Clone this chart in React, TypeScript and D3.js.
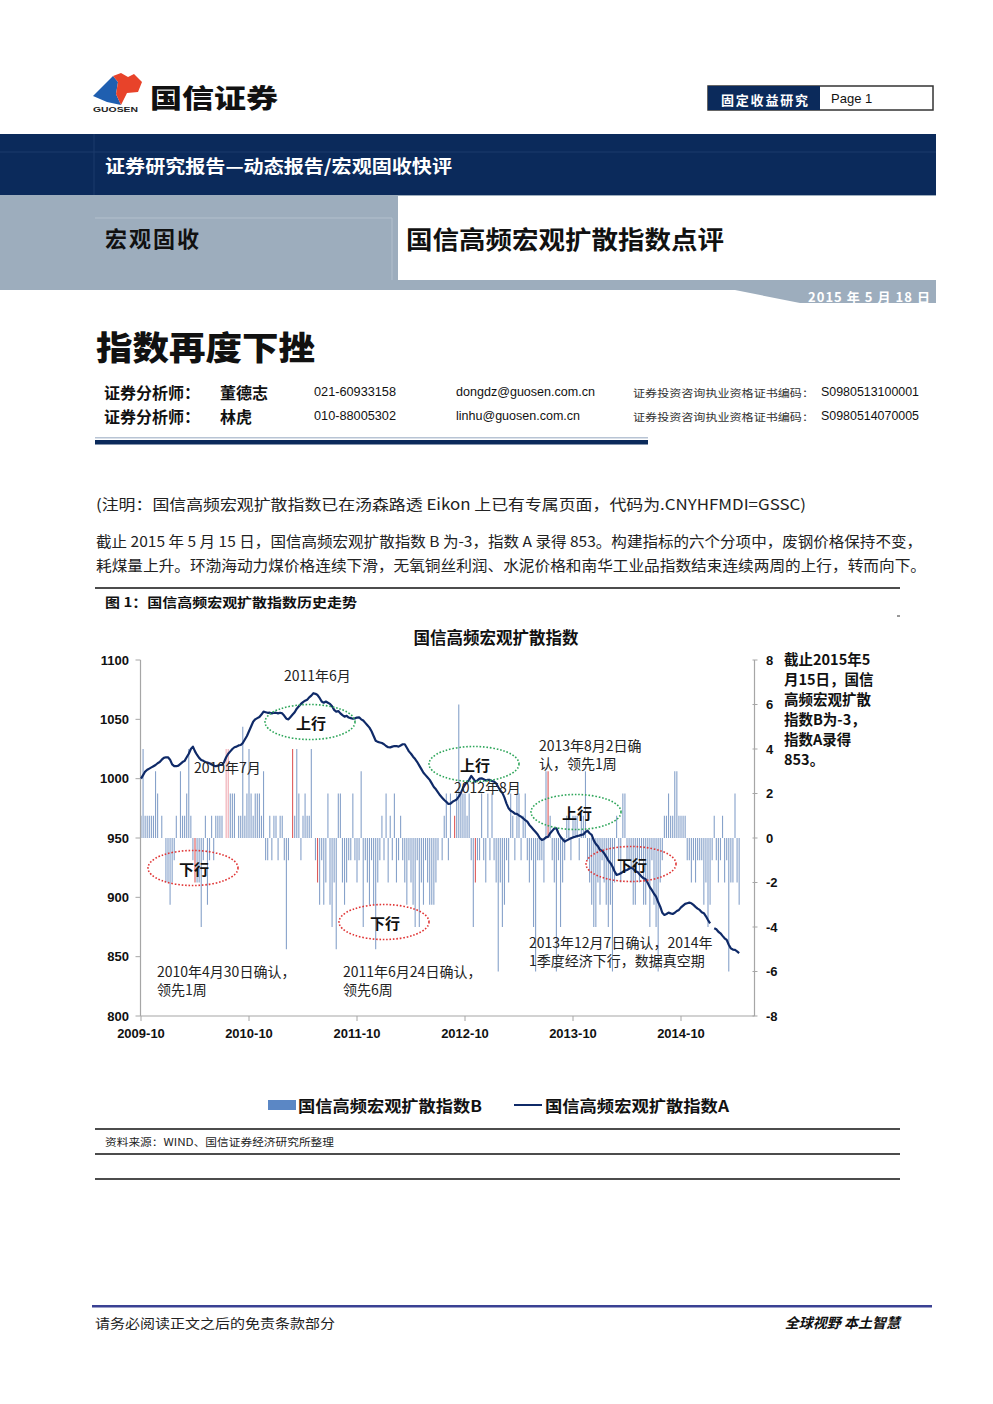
import React from 'react';
import * as d3 from 'd3';

// ---------- data ----------
const tickLabels = ['2009-10', '2010-10', '2011-10', '2012-10', '2013-10', '2014-10'];
const tickWeeks = [0, 52, 104, 156, 208, 260];
const leftTicks = [800, 850, 900, 950, 1000, 1050, 1100];
const rightTicks = [-8, -6, -4, -2, 0, 2, 4, 6, 8];

// 国信高频宏观扩散指数A (weekly)
const indexA: (number | null)[] = [
  1000, 1003, 1006, 1007.5, 1008.5, 1009.5, 1010.5, 1011.5, 1013, 1014,
  1016, 1017.5, 1018, 1018, 1016, 1012, 1010.5, 1010.5, 1011, 1012.5,
  1014, 1015, 1018, 1021, 1025, 1027, 1023, 1020, 1017.5, 1015.8,
  1015, 1014, 1013.5, 1013, 1012, 1011, 1010.5, 1011, 1011.5, 1011.5,
  1014, 1018, 1021, 1023, 1025, 1026.5, 1027, 1028, 1028.4, 1030,
  1033, 1036, 1040, 1044, 1048, 1050, 1051, 1052, 1054, 1056.5,
  1056, 1055.5, 1055.6, 1055, 1055.5, 1055.6, 1055, 1055.5, 1055, 1053,
  1050.5, 1050, 1052, 1054, 1056, 1059, 1061, 1063, 1064.5, 1065.7,
  1066.5, 1068.5, 1070, 1072, 1071.5, 1070.5, 1068, 1065, 1064, 1065,
  1064, 1063, 1061, 1058, 1056.4, 1057, 1055, 1053.5, 1052.2, 1053,
  1051.5, 1051, 1050.5, 1050.8, 1051.5, 1051.7, 1050, 1049, 1047, 1045,
  1043, 1040, 1036, 1032, 1031, 1030.5, 1030, 1029, 1027.5, 1026.5,
  1026.4, 1027, 1027.5, 1027.5, 1027, 1028, 1029, 1029, 1026, 1023,
  1021, 1018.5, 1016.5, 1014, 1011, 1008, 1005, 1003, 1001, 999,
  996, 993, 991, 988.5, 986, 984, 982, 980.5, 978.7, 979,
  980.5, 981.5, 982.5, 984.8, 988, 992, 995, 997, 999, 1002.3,
  1000, 997.5, 998.5, 1000, 1000.3, 999.5, 998.5, 999, 998.9, 998,
  997.5, 996, 993, 990, 988, 984, 979, 975, 973, 972,
  970.5, 970.3, 969, 968, 966.6, 965, 963.8, 961, 959, 957,
  955, 953, 950, 948.4, 949, 950.5, 951.1, 954, 956, 958,
  958.2, 954, 951, 949, 947, 948, 949, 949.8, 950.5, 951,
  951.7, 952, 952.6, 953, 955, 956.2, 954, 952.6, 948, 945,
  943, 940, 939.3, 937, 934.3, 931, 929, 926, 922, 918.9,
  919.5, 920.3, 921.5, 922.5, 923.1, 924, 925, 924, 922, 921.5,
  919.5, 917.5, 916, 915.2, 912, 908.5, 906, 903, 900.6, 896,
  892.2, 887, 885.2, 886, 887.1, 886.5, 886, 887, 888.5, 889.4,
  891.5, 893, 894.5, 895, 895.5, 895, 893.6, 892, 890.5, 889.4,
  887.5, 886.6, 884, 880.9, 878, null, 874, 873.1, 871, 869.7,
  867.5, 865.5, 864.1, 860, 857, 856, 855.7, 854.5, 853,
];

// 国信高频宏观扩散指数B (weekly)
const indexB: number[] = [
  1, 4, 1, 1, 1, 1, 1, 3, 2, 0,
  1, 0, -2, -2, -3, -2, -1, 1, 0, 3,
  1, 1, 2, 4, 1, -1, -2, -2, -2, -4,
  -1, 1, -3, -1, 1, -1, 1, 1, 1, 1,
  0, 4, 4, 2, 2, 2, 0, 1, 1, 5,
  1, 2, 4, 2, 1, 2, 2, 2, 1, 3,
  -1, -1, 1, -1, 1, 1, -1, 1, 1, -1,
  -5, -1, 0, 4, 1, 4, 2, -1, 1, 2,
  1, 1, 4, 0, -1, -2, -3, -1, -3, -2,
  2, -3, -4, -2, -5, 2, 2, -2, -3, -2,
  -1, -1, 2, -1, -2, -1, 3, -4, -1, -2,
  -3, -1, -3, -5, -2, -1, 1, -1, 2, -2,
  1, -1, 2, -2, -1, 1, -1, -2, -3, -1,
  -2, -3, -4, -1, -4, -2, -3, -1, -2, -3,
  -3, -3, -2, -1, 0, -1, 1, 2, -1, 2,
  0, 1, 2, 6, 2, 2, 2, 1, 2, -1,
  -4, -2, -1, -1, 2, -1, -2, 2, -1, 2,
  -1, -2, -6, -2, -4, -3, -1, -2, 2, 1,
  -1, 2, 2, -1, 1, 2, -1, -2, -1, -4,
  -6, -1, -1, -1, -2, 3, 3, 1, -1, -2,
  -6, -1, -4, -2, -1, 1, 1, -1, 1, 1,
  1, -1, 1, 1, 3, -1, -2, -3, -4, -4,
  -2, -3, -1, -2, -3, -4, -3, -6, -2, 1,
  -1, -2, 2, 2, -1, -1, -2, -3, -3, -1,
  -2, -1, -3, -3, -2, -4, -1, -3, -4, -6,
  -2, -1, 1, 1, 2, 1, 1, 3, 3, 1,
  1, 1, 1, -1, -1, -2, -1, -2, -1, -1,
  -1, -3, -2, -4, -3, -1, 1, -1, -2, -1,
  1, -2, -1, -6, -2, -2, 2, -2, -3,
];

const redWeeks = [26, 73, 85, 151, 161, 196];
const pinkWeeks = [41, 42];

const seriesNames = ['国信高频宏观扩散指数B', '国信高频宏观扩散指数A'];

// ---------- styles ----------
const NAVY = '#0b2a5b';
const GRAY = '#9dadbd';
const SANS = "'Liberation Sans','Noto Sans CJK SC',sans-serif";
const CJK = "'Noto Sans CJK SC','Liberation Sans',sans-serif";

export default function App() {
  const x = d3.scaleLinear().domain([0, 52]).range([141, 249]);
  const yL = d3.scaleLinear().domain([800, 1100]).range([1016, 660]);
  const yR = d3.scaleLinear().domain([-8, 8]).range([1016, 660]);

  const lineGen = d3
    .line<number | null>()
    .defined((d) => d != null)
    .x((_, i) => x(i))
    .y((d) => yL(d as number));

  const axisColor = '#a6a6a6';
  const plotL = 140.5;
  const plotR = 754.5;

  const barColor = (i: number) =>
    redWeeks.includes(i) ? '#de5a5a' : pinkWeeks.includes(i) ? '#efa9b1' : '#87a2ca';

  const ellipses = [
    { cx: 310, cy: 722, color: '#2ea65a', label: '上行' },
    { cx: 474, cy: 764, color: '#2ea65a', label: '上行' },
    { cx: 576, cy: 812, color: '#2ea65a', label: '上行' },
    { cx: 193, cy: 868, color: '#e03535', label: '下行' },
    { cx: 384, cy: 922, color: '#e03535', label: '下行' },
    { cx: 631, cy: 864, color: '#e03535', label: '下行' },
  ];

  const notes = [
    { x: 284, y: 675, t: '2011年6月' },
    { x: 194, y: 767, t: '2010年7月' },
    { x: 539, y: 745, t: '2013年8月2日确' },
    { x: 539, y: 763, t: '认，领先1周' },
    { x: 454, y: 787, t: '2012年8月' },
    { x: 529, y: 942, t: '2013年12月7日确认，2014年' },
    { x: 529, y: 960, t: '1季度经济下行，数据真空期' },
    { x: 157, y: 971, t: '2010年4月30日确认，' },
    { x: 157, y: 989, t: '领先1周' },
    { x: 343, y: 971, t: '2011年6月24日确认，' },
    { x: 343, y: 989, t: '领先6周' },
  ];

  const sideNote = ['截止2015年5', '月15日，国信', '高频宏观扩散', '指数B为-3，', '指数A录得', '853。'];

  return (
    <svg
      width={993}
      height={1404}
      viewBox="0 0 993 1404"
      style={{ position: 'absolute', left: 0, top: 0, background: '#fff' }}
    >
      <rect x={0} y={0} width={993} height={1404} fill="#fff" />

      {/* ---------- logo ---------- */}
      <path d="M93,96 L113,76 L118,82 L116,94 L121,105 L107,102 Z" fill="#1f5fb0" />
      <path d="M113,76 L121,73 L128,77 L134,74 L142,82 L138,92 L127,93 L121,105 L116,94 L118,82 Z" fill="#e8432a" />
      <text x={93} y={112} fontFamily={SANS} fontWeight="bold" fontSize={7} textLength={45} lengthAdjust="spacingAndGlyphs" fill="#222">
        GUOSEN
      </text>
      <text x={150} y={96} dominantBaseline="central" fontFamily={CJK} fontWeight={900} fontSize={26} textLength={128} lengthAdjust="spacingAndGlyphs" fill="#111">
        国信证券
      </text>

      {/* top-right box */}
      <rect x={708} y={86} width={225} height={24} fill="#fff" stroke="#333" strokeWidth={1.5} />
      <rect x={708} y={86} width={112} height={24} fill={NAVY} />
      <text x={721} y={99} dominantBaseline="central" fontFamily={CJK} fontWeight="bold" fontSize={13} textLength={87} fill="#fff">
        固定收益研究
      </text>
      <text x={831} y={98.5} dominantBaseline="central" fontFamily={SANS} fontSize={13} fill="#111">
        Page 1
      </text>

      {/* ---------- header bands ---------- */}
      <rect x={0} y={134} width={936} height={61} fill={NAVY} />
      <line x1={0} y1={152} x2={936} y2={152} stroke="#1d3b6c" strokeWidth={1} />
      <line x1={94} y1={134} x2={94} y2={195} stroke="#1d3b6c" strokeWidth={1} />
      <text x={105} y={165} dominantBaseline="central" fontFamily={CJK} fontWeight="bold" fontSize={18} textLength={347} lengthAdjust="spacingAndGlyphs" fill="#fff">
        证券研究报告—动态报告/宏观固收快评
      </text>
      <path d="M0,195 L936,195 L936,303 L800,303 L735,290 L0,290 Z" fill={GRAY} />
      <rect x={398} y={196} width={538} height={84} fill="#fff" />
      <line x1={95} y1={218} x2={392} y2={218} stroke="#b3c0cd" strokeWidth={1} />
      <line x1={392} y1={218} x2={392} y2={280} stroke="#b3c0cd" strokeWidth={1} />
      <text x={105} y={237} dominantBaseline="central" fontFamily={CJK} fontWeight="bold" fontSize={22} textLength={94} fill="#111">
        宏观固收
      </text>
      <text x={406} y={238} dominantBaseline="central" fontFamily={CJK} fontWeight="bold" fontSize={25} textLength={318} lengthAdjust="spacingAndGlyphs" fill="#111">
        国信高频宏观扩散指数点评
      </text>
      <text x={808} y={296} dominantBaseline="central" fontFamily={CJK} fontWeight="bold" fontSize={13} textLength={122} fill="#fff">
        2015 年 5 月 18 日
      </text>

      {/* ---------- headline & authors ---------- */}
      <text x={96} y={346} dominantBaseline="central" fontFamily={CJK} fontWeight={900} fontSize={33} textLength={219} lengthAdjust="spacingAndGlyphs" fill="#111">
        指数再度下挫
      </text>
      {[
        { y: 392, name: '董德志', tel: '021-60933158', mail: 'dongdz@guosen.com.cn', cert: 'S0980513100001' },
        { y: 416, name: '林虎', tel: '010-88005302', mail: 'linhu@guosen.com.cn', cert: 'S0980514070005' },
      ].map((r) => (
        <g key={r.name}>
          <text x={104} y={r.y} dominantBaseline="central" fontFamily={CJK} fontWeight="bold" fontSize={16} textLength={96} fill="#111">
            证券分析师：
          </text>
          <text x={220} y={r.y} dominantBaseline="central" fontFamily={CJK} fontWeight="bold" fontSize={16} fill="#111">
            {r.name}
          </text>
          <text x={314} y={r.y} dominantBaseline="central" fontFamily={SANS} fontSize={12} textLength={82} lengthAdjust="spacingAndGlyphs" fill="#111">
            {r.tel}
          </text>
          <text x={456} y={r.y} dominantBaseline="central" fontFamily={SANS} fontSize={12} textLength={r.name === '林虎' ? 124 : 139} lengthAdjust="spacingAndGlyphs" fill="#111">
            {r.mail}
          </text>
          <text x={633} y={r.y} dominantBaseline="central" fontFamily={CJK} fontSize={10.5} textLength={181} lengthAdjust="spacingAndGlyphs" fill="#333">
            证券投资咨询执业资格证书编码：
          </text>
          <text x={821} y={r.y} dominantBaseline="central" fontFamily={SANS} fontSize={12} textLength={98} lengthAdjust="spacingAndGlyphs" fill="#111">
            {r.cert}
          </text>
        </g>
      ))}
      <rect x={95} y={437} width={553} height={1.5} fill="#b8c4d4" />
      <rect x={95} y={440} width={553} height={4.5} fill={NAVY} />

      {/* ---------- body text ---------- */}
      <text x={96} y={503} dominantBaseline="central" fontFamily={CJK} fontSize={15} textLength={710} lengthAdjust="spacingAndGlyphs" fill="#222">
        (注明：国信高频宏观扩散指数已在汤森路透 Eikon 上已有专属页面，代码为.CNYHFMDI=GSSC)
      </text>
      <text x={96} y={540} dominantBaseline="central" fontFamily={CJK} fontSize={15} textLength={826} lengthAdjust="spacingAndGlyphs" fill="#222">
        截止 2015 年 5 月 15 日，国信高频宏观扩散指数 B 为-3，指数 A 录得 853。构建指标的六个分项中，废钢价格保持不变，
      </text>
      <text x={96} y={564} dominantBaseline="central" fontFamily={CJK} fontSize={15} textLength={830} lengthAdjust="spacingAndGlyphs" fill="#222">
        耗煤量上升。环渤海动力煤价格连续下滑，无氧铜丝利润、水泥价格和南华工业品指数结束连续两周的上行，转而向下。
      </text>

      {/* ---------- figure frame ---------- */}
      <line x1={95} y1={588} x2={900} y2={588} stroke="#111" strokeWidth={1.5} />
      <text x={105} y={601} dominantBaseline="central" fontFamily={CJK} fontWeight="bold" fontSize={13} textLength={252} lengthAdjust="spacingAndGlyphs" fill="#111">
        图 1：国信高频宏观扩散指数历史走势
      </text>
      <line x1={897} y1={616} x2={900} y2={616} stroke="#333" strokeWidth={1} />

      <text x={496} y={637} textAnchor="middle" dominantBaseline="central" fontFamily={CJK} fontWeight="bold" fontSize={16.5} fill="#111">
        国信高频宏观扩散指数
      </text>

      {/* bars (right axis) */}
      {indexB.map((v, i) =>
        v === 0 ? null : (
          <rect
            key={'b' + i}
            x={x(i) - 0.55}
            width={1.1}
            y={yR(Math.max(0, v))}
            height={Math.abs(yR(v) - yR(0))}
            fill={barColor(i)}
          />
        )
      )}

      {/* axes */}
      <line x1={plotL} y1={660} x2={plotL} y2={1016} stroke={axisColor} strokeWidth={1.2} />
      <line x1={plotR} y1={660} x2={plotR} y2={1016} stroke={axisColor} strokeWidth={1.2} />
      <line x1={plotL} y1={1016} x2={plotR} y2={1016} stroke={axisColor} strokeWidth={1.2} />
      {leftTicks.map((t) => (
        <g key={'l' + t}>
          <line x1={plotL - 5} x2={plotL} y1={yL(t)} y2={yL(t)} stroke={axisColor} />
          <text x={129} y={yL(t)} textAnchor="end" dominantBaseline="central" fontFamily={SANS} fontWeight="bold" fontSize={13} fill="#111">
            {t}
          </text>
        </g>
      ))}
      {rightTicks.map((t) => (
        <g key={'r' + t}>
          <line x1={plotR - 2} x2={plotR + 3} y1={yR(t)} y2={yR(t)} stroke={axisColor} />
          <text x={766} y={yR(t)} dominantBaseline="central" fontFamily={SANS} fontWeight="bold" fontSize={13} fill="#111">
            {t}
          </text>
        </g>
      ))}
      {tickWeeks.map((w, k) => (
        <g key={'x' + w}>
          <line x1={x(w)} x2={x(w)} y1={1016} y2={1021} stroke={axisColor} />
          <text x={x(w)} y={1033} textAnchor="middle" dominantBaseline="central" fontFamily={SANS} fontWeight="bold" fontSize={13} fill="#111">
            {tickLabels[k]}
          </text>
        </g>
      ))}

      {/* line A */}
      <path d={lineGen(indexA) || ''} fill="none" stroke="#0f2a68" strokeWidth={2.2} strokeLinejoin="round" />

      {/* annotations */}
      {ellipses.map((e, k) => (
        <g key={'e' + k}>
          <ellipse cx={e.cx} cy={e.cy} rx={45} ry={17.5} fill="none" stroke={e.color} strokeWidth={1.6} strokeDasharray="1.6 1.8" />
          <text x={e.cx + 1} y={e.cy} textAnchor="middle" dominantBaseline="central" fontFamily={CJK} fontWeight="bold" fontSize={15} fill="#111">
            {e.label}
          </text>
        </g>
      ))}
      {notes.map((n, k) => (
        <text key={'n' + k} x={n.x} y={n.y} dominantBaseline="central" fontFamily={CJK} fontSize={14} fill="#222">
          {n.t}
        </text>
      ))}
      {sideNote.map((s, k) => (
        <text key={'s' + k} x={784} y={658 + k * 20} dominantBaseline="central" fontFamily={CJK} fontWeight="bold" fontSize={14.5} fill="#111">
          {s}
        </text>
      ))}

      {/* legend */}
      <rect x={268} y={1100} width={28} height={10} fill="#5b87c5" />
      <text x={298} y={1105} dominantBaseline="central" fontFamily={CJK} fontWeight="bold" fontSize={16} textLength={184} lengthAdjust="spacingAndGlyphs" fill="#111">
        {seriesNames[0]}
      </text>
      <line x1={514} x2={542} y1={1105} y2={1105} stroke="#0f2a68" strokeWidth={2} />
      <text x={545} y={1105} dominantBaseline="central" fontFamily={CJK} fontWeight="bold" fontSize={16} textLength={184} lengthAdjust="spacingAndGlyphs" fill="#111">
        {seriesNames[1]}
      </text>

      {/* source */}
      <line x1={95} y1={1129} x2={900} y2={1129} stroke="#111" strokeWidth={1.5} />
      <text x={105} y={1141} dominantBaseline="central" fontFamily={CJK} fontSize={10} textLength={229} lengthAdjust="spacingAndGlyphs" fill="#222">
        资料来源：WIND、国信证券经济研究所整理
      </text>
      <line x1={95} y1={1154} x2={900} y2={1154} stroke="#111" strokeWidth={1.5} />
      <line x1={95} y1={1179} x2={900} y2={1179} stroke="#111" strokeWidth={1.5} />

      {/* footer */}
      <rect x={92} y={1305} width={840} height={2.5} fill="#3a4193" />
      <text x={95} y={1322} dominantBaseline="central" fontFamily={CJK} fontSize={13} textLength={240} lengthAdjust="spacingAndGlyphs" fill="#222">
        请务必阅读正文之后的免责条款部分
      </text>
      <text x={900} y={1322} textAnchor="end" dominantBaseline="central" fontFamily={CJK} fontWeight="bold" fontStyle="italic" fontSize={14} fill="#111">
        全球视野 本土智慧
      </text>
    </svg>
  );
}
